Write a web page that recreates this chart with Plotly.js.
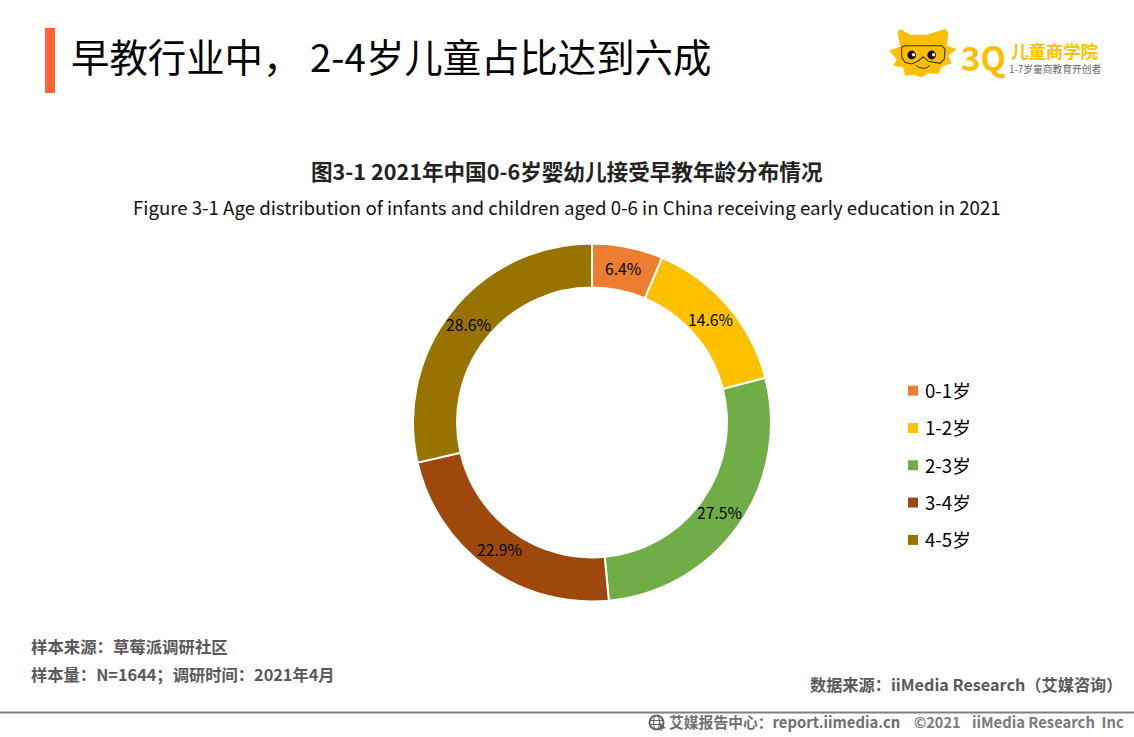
<!DOCTYPE html>
<html><head><meta charset="utf-8">
<script src="https://cdn.plot.ly/plotly-3.0.1.min.js"></script>
<style>html,body{margin:0;padding:0;background:#fff}#c{width:1134px;height:737px}</style></head>
<body><div id="c"></div>
<script>
const categories = ['0-1岁','1-2岁','2-3岁','3-4岁','4-5岁'];
const shares = [6.4,14.6,27.5,22.9,28.6];
const sliceColors = ['#ED7D31','#FFC000','#70AD47','#9E480E','#997300'];
const W=1134,H=737;
const FONT='"Noto Sans CJK SC","Noto Sans",sans-serif';
const px=x=>x/W, py=y=>1-y/H;
function T(text,x,y,size,color,anchor,bold){
  return {text:bold?'<b>'+text+'</b>':text,x:px(x),y:py(y),xref:'paper',yref:'paper',xanchor:anchor||'left',yanchor:'middle',
    showarrow:false,font:{family:FONT,size:size,color:color||'#000'},borderpad:0,borderwidth:0};
}
function R(x0,y0,x1,y1,fill){return {type:'rect',xref:'paper',yref:'paper',x0:px(x0),x1:px(x1),y0:py(y0),y1:py(y1),fillcolor:fill,line:{width:0},layer:'above'};}
function P(pts,fill,line,lw,open){
  const d=pts.map((p,i)=>(i?'L':'M')+px(p[0]).toFixed(5)+','+py(p[1]).toFixed(5)).join(' ')+(open?'':' Z');
  return {type:'path',xref:'paper',yref:'paper',path:d,fillcolor:fill,line:{width:lw||0,color:line||fill},layer:'above'};
}
function C(cx,cy,rx,ry,fill,line,lw){return {type:'circle',xref:'paper',yref:'paper',x0:px(cx-rx),x1:px(cx+rx),y0:py(cy-ry),y1:py(cy+ry),fillcolor:fill,line:{width:lw||0,color:line||fill},layer:'above'};}

const gold='#FCBF00';
const shapes=[
  R(45,28,55,93,'#FF6633'),
  R(0,711.5,W,713.5,'#7F7F7F'),
  // mascot
  P([[900,29],[910,34.7],[927,34.7],[945,29],[948.3,32.3],[946.7,45.7],[956.7,49],[948.3,55.7],[951.7,63.3],[941.7,66.7],[938,74],[928,73.3],[921.7,77.3],[913,74.7],[905,75.7],[903.3,67.3],[893.3,65.7],[896.7,59],[889,50.7],[900,46.7],[897.7,32.3]],gold),
  P([[901.7,47.3],[905,45.7],[941.7,45.7],[945,49],[944.3,59],[940,63.3],[928.3,61.3],[923.3,56.7],[918.3,60.7],[911.7,64],[905,62.3],[901.7,57.3]],'rgba(0,0,0,0)','#3a3320',1.1),
  C(911.7,55,4.4,4.4,'#111'),C(931.7,55,4.4,4.4,'#111'),C(913.6,54.7,1.7,1.7,'#fff'),C(933.6,54.7,1.7,1.7,'#fff'),
  P([[915.7,65],[919,67.5],[923.3,68.3],[927,67.5],[930,65.5]],'rgba(0,0,0,0)','#3a3320',1,true),
  // footer globe
  C(656.5,722.5,7,7,'rgba(0,0,0,0)','#666',2),
  C(656.5,722.5,3,7,'rgba(0,0,0,0)','#666',1.2),
  R(650,720,663,721,'#666'),R(650,724,663,725,'#666'),
  P([[659,722],[666,728],[662,729],[661,732]],'#666')
];
const annotations=[
  T('早教行业中， 2-4岁儿童占比达到六成',71,55,38.4,'#000'),
  T('图3-1 2021年中国0-6岁婴幼儿接受早教年龄分布情况',567,170.5,21.6,'#222','center',true),
  T('Figure 3-1 Age distribution of infants and children aged 0-6 in China receiving early education in 2021',567,207,18.65,'#111','center'),
  T('3Q',961,57,33,gold,'left',true),
  T('儿童商学院',1011,50.5,17.4,gold,'left',true),
  T('1-7岁童商教育开创者',1009,69.5,9.75,'#666'),
  T('样本来源：草莓派调研社区',31,645.5,16.4,'#595959','left',true),
  T('样本量：N=1644；调研时间：2021年4月',31,673.5,16.3,'#595959','left',true),
  T('数据来源：iiMedia Research（艾媒咨询）',1122,683.5,16.2,'#595959','right',true),
  T('艾媒报告中心：report.iimedia.cn',669,721,14.8,'#6f6f6f','left',true),
  T('©2021',914,721,14.5,'#7a7a7a','left',true),
  T('iiMedia Research  Inc',972,721,14.8,'#7a7a7a','left',true)
];
// value labels sit at the middle of each slice's arc, mid-ring
const CX=592, CY=422.5, ROUT=179, HOLE=0.754, RMID=157;
const total=shares.reduce((a,b)=>a+b,0);
let cum=0;
shares.forEach(v=>{
  const a=(cum+v/2)/total*2*Math.PI; cum+=v;
  annotations.push(T(v.toFixed(1)+'%',CX+RMID*Math.sin(a)-0.5,CY-RMID*Math.cos(a)-0.5,15.7,'#000','center'));
});
const pie={type:'pie',labels:categories,values:shares,sort:false,direction:'clockwise',rotation:0,hole:HOLE,
  domain:{x:[(CX-ROUT)/W,(CX+ROUT)/W],y:[1-(CY+ROUT)/H,1-(CY-ROUT)/H]},
  marker:{colors:sliceColors,line:{color:'#fff',width:2}},
  textinfo:'none',hoverinfo:'label+percent',showlegend:false};
const legendProxies=categories.map((c,i)=>({type:'scatter',mode:'markers',x:[null],y:[null],name:c,legendgroup:c,showlegend:true,
  marker:{symbol:'square',size:10,color:sliceColors[i]},hoverinfo:'skip'}));
Plotly.newPlot('c',[pie].concat(legendProxies),{
  width:W,height:H,margin:{l:0,r:0,t:0,b:0},paper_bgcolor:'#fff',plot_bgcolor:'#fff',
  xaxis:{visible:false},yaxis:{visible:false},
  legend:{x:px(893),y:py(372),xanchor:'left',yanchor:'top',tracegroupgap:10,itemwidth:30,traceorder:'grouped',
    font:{family:FONT,size:18.7,color:'#000'},bgcolor:'rgba(0,0,0,0)'},
  shapes:shapes,annotations:annotations
},{displayModeBar:false,staticPlot:true}).then(gd=>{
  // tighten the gap between the legend swatch and its label
  gd.querySelectorAll('.legendtext').forEach(t=>t.setAttribute('x','32'));
});
</script></body></html>
